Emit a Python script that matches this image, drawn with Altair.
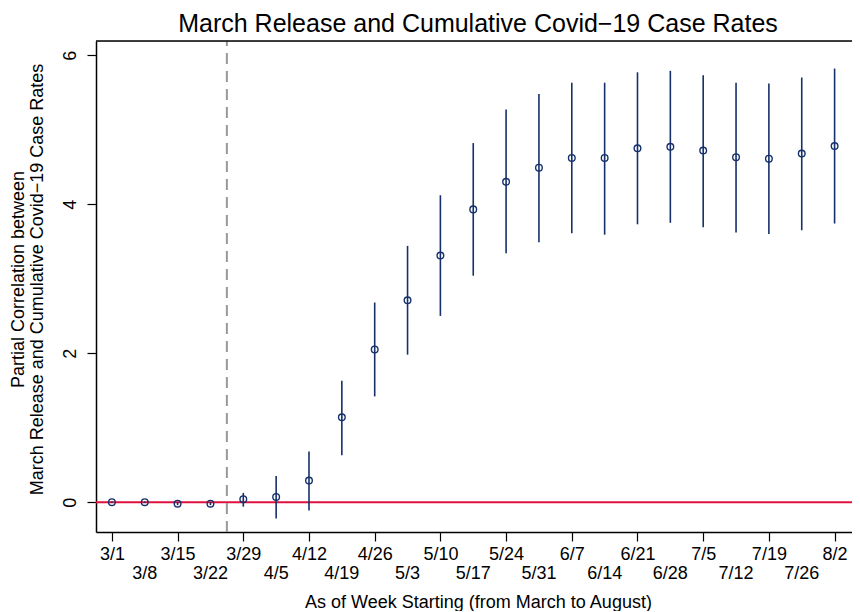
import altair as alt
import pandas as pd

# ---- data ----
weeks = ["3/1", "3/8", "3/15", "3/22", "3/29", "4/5", "4/12", "4/19", "4/26",
         "5/3", "5/10", "5/17", "5/24", "5/31", "6/7", "6/14", "6/21", "6/28",
         "7/5", "7/12", "7/19", "7/26", "8/2"]
estimate = [0.00, 0.00, -0.02, -0.02, 0.04, 0.07, 0.29, 1.14, 2.05, 2.71, 3.31,
            3.93, 4.30, 4.49, 4.62, 4.62, 4.75, 4.77, 4.72, 4.63, 4.61, 4.68, 4.78]
lower = [-0.01, -0.01, -0.04, -0.04, -0.06, -0.22, -0.11, 0.63, 1.42, 1.98, 2.50,
         3.04, 3.34, 3.49, 3.61, 3.59, 3.73, 3.75, 3.69, 3.62, 3.60, 3.65, 3.74]
upper = [0.01, 0.01, 0.00, 0.00, 0.125, 0.35, 0.68, 1.63, 2.68, 3.44, 4.12,
         4.82, 5.27, 5.48, 5.63, 5.63, 5.77, 5.79, 5.73, 5.63, 5.62, 5.70, 5.82]
y_ticks = [0, 2, 4, 6]
cutoff_position = [3.5]  # between 3/22 and 3/29
reference_level = [0]

X_MIN, X_MAX = -0.484, 22.53
Y_MIN, Y_MAX = -0.40, 6.19
W, H = 756, 491

FONT = "Liberation Sans"
NAVY = "#15306a"
RED = "#e0103f"

df = pd.DataFrame({
    "idx": list(range(len(weeks))),
    "week": weeks,
    "est": estimate,
    "lo": lower,
    "hi": upper,
})

labels_js = "[" + ",".join(f"'{w}'" for w in weeks) + "]"
# first row of tick labels on the axis (even weeks); second row drawn below
label_expr = f"datum.value % 2 == 0 ? {labels_js}[datum.value] : ''"

x_scale = alt.Scale(domain=[X_MIN, X_MAX], nice=False, zero=False)
y_scale = alt.Scale(domain=[Y_MIN, Y_MAX], nice=False, zero=False)

x_axis = alt.Axis(
    values=list(range(len(weeks))), labelExpr=label_expr, labelOverlap=False,
    labelFlush=False, labelFont=FONT, labelFontSize=18, labelColor="black",
    labelPadding=4, tickSize=9, tickColor="black",
    tickWidth=1.2, domainColor="black", domainWidth=1.5, grid=False,
    title="As of Week Starting (from March to August)", titleFont=FONT,
    titleFontSize=18, titleFontWeight="normal", titleColor="black",
    titleY=75, titleX=382, titleBaseline="alphabetic",
)
y_axis = alt.Axis(
    values=y_ticks, format="d", labelAngle=270, labelAlign="center",
    labelBaseline="bottom", labelPadding=8, labelFont=FONT, labelFontSize=18,
    labelColor="black", tickSize=9, tickColor="black", tickWidth=1.2,
    domainColor="black", domainWidth=1.5, grid=False,
    title=["Partial Correlation between",
           "March Release and Cumulative Covid\u221219 Case Rates"],
    titleFont=FONT, titleFontSize=18, titleFontWeight="normal",
    titleColor="black", titleAngle=270, titleAlign="center",
    titleBaseline="bottom", titleX=-69, titleY=238, titleLineHeight=19,
)

base = alt.Chart(df)

errbars = base.mark_rule(color=NAVY, strokeWidth=1.6).encode(
    x=alt.X("idx:Q", scale=x_scale, axis=x_axis),
    y=alt.Y("lo:Q", scale=y_scale, axis=y_axis),
    y2="hi:Q",
)
points = base.mark_point(shape="circle", filled=False, color=NAVY,
                         size=44, strokeWidth=1.4, opacity=1).encode(
    x="idx:Q",
    y="est:Q",
)
# second (lower) row of week labels, under the odd-numbered ticks
odd_labels = base.transform_filter("datum.idx % 2 == 1").mark_text(
    font=FONT, fontSize=18, color="black", align="center",
    baseline="alphabetic").encode(
    x="idx:Q",
    y=alt.value(H + 46.7),
    text="week:N",
)

one = pd.DataFrame({"v": [0]})
zero_line = alt.Chart(pd.DataFrame({"level": reference_level})).mark_rule(
    color=RED, strokeWidth=2).encode(
    y="level:Q", x=alt.datum(X_MIN), x2=alt.datum(X_MAX))
cut_line = alt.Chart(pd.DataFrame({"pos": cutoff_position})).mark_rule(
    color="#999999", strokeWidth=2, strokeDash=[11, 7]).encode(
    x="pos:Q", y=alt.datum(Y_MIN), y2=alt.datum(Y_MAX))
top_frame = alt.Chart(one).mark_rule(color="black", strokeWidth=1.5).encode(
    y=alt.datum(Y_MAX), x=alt.datum(X_MIN), x2=alt.datum(X_MAX))

chart = alt.layer(zero_line, cut_line, errbars, points, odd_labels,
                  top_frame).properties(
    width=W,
    height=H,
    autosize=alt.AutoSizeParams(type="none"),
    padding={"left": 88, "top": 33, "right": 0, "bottom": 79},
    title=alt.TitleParams(
        "March Release and Cumulative Covid\u221219 Case Rates",
        font=FONT, fontSize=25, fontWeight="normal", color="black",
        anchor="middle", offset=3, dx=4,
    ),
).configure_view(stroke=None).configure(background="white")

chart.save("out.html", embed_options={"renderer": "svg", "actions": False})
